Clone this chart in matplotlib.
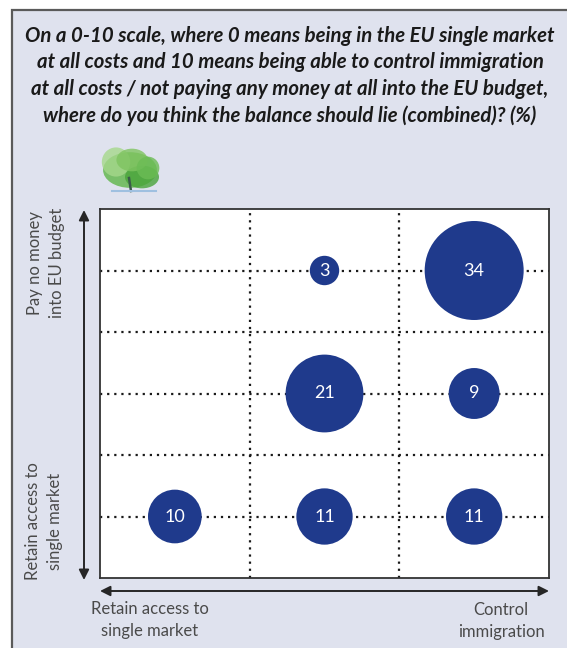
import matplotlib
matplotlib.use("Agg")
import matplotlib.pyplot as plt
from matplotlib.patches import Rectangle, Ellipse, FancyArrowPatch
from matplotlib.lines import Line2D

# ---- data ----
col_labels = ["Retain access to single market", "Middle", "Control immigration"]
row_labels = ["Retain access to single market", "Middle", "Pay no money into EU budget"]
bubble_col = [1, 2, 1, 2, 0, 1, 2]
bubble_row = [2, 2, 1, 1, 0, 0, 0]
bubble_val = [3, 34, 21, 9, 10, 11, 11]

title = ("On a 0-10 scale, where 0 means being in the EU single market\n"
         "at all costs and 10 means being able to control immigration\n"
         "at all costs / not paying any money at all into the EU budget,\n"
         "where do you think the balance should lie (combined)? (%)")
x_left_label = "Retain access to\nsingle market"
x_right_label = "Control\nimmigration"
y_top_label = "Pay no money\ninto EU budget"
y_bottom_label = "Retain access to\nsingle market"

W, H = 567, 648
DPI = 100
fig = plt.figure(figsize=(W / DPI, H / DPI), dpi=DPI)
fig.patch.set_facecolor("white")

def fx(x):
    return x / W

def fy(y):
    return 1 - y / H

BG = "#dfe2ee"
BLUE = "#1f3a8c"
GREY_TXT = "#4a4a4a"

# outer panel
fig.add_artist(Rectangle((fx(12), fy(660)), fx(570) - fx(12), fy(10) - fy(660),
                         transform=fig.transFigure, facecolor=BG,
                         edgecolor="#5a5a5a", lw=1.6, zorder=-10))

# title
fig.text(fx(290), fy(76), title, ha="center", va="center", fontsize=14.7,
         family="Lato", weight="bold", style="italic", color="#1a1a1a",
         linespacing=1.40)

# tree logo (simple drawn shapes)
tree_parts = [
    (fx(130), fy(170), 0.095, 0.055, "#5fb548"),
    (fx(116), fy(162), 0.05, 0.045, "#a6d88c"),
    (fx(142), fy(177), 0.06, 0.035, "#49a43a"),
    (fx(132), fy(160), 0.055, 0.035, "#7fc460"),
    (fx(148), fy(168), 0.04, 0.035, "#6cbc55"),
]
for cx, cy, w, h, c in tree_parts:
    fig.add_artist(Ellipse((cx, cy), w, h, transform=fig.transFigure,
                           facecolor=c, edgecolor="none", alpha=0.8, zorder=1))
fig.add_artist(Line2D([fx(129), fx(131)], [fy(178), fy(191)], transform=fig.transFigure,
                      color="#3a5a4a", lw=1.8, zorder=2))
fig.add_artist(Line2D([fx(112), fx(156)], [fy(191), fy(191)], transform=fig.transFigure,
                      color="#9fc0e0", lw=1.5, zorder=2))

# main axes
L, T, R, B = 100, 209, 549, 578
ax = fig.add_axes([fx(L), fy(B), fx(R) - fx(L), fy(T) - fy(B)])
ax.set_zorder(5)
ax.set_facecolor("white")
ax.set_xlim(0, 3)
ax.set_ylim(0, 3)
ax.set_xticks([])
ax.set_yticks([])
for s in ax.spines.values():
    s.set_color("#333333")
    s.set_linewidth(1.3)

dot = (0, (1, 2.2))
for xv in range(1, len(col_labels)):
    ax.axvline(xv, color="#1a1a1a", lw=1.6, ls=dot, zorder=1)
for r in range(len(row_labels)):
    ax.axhline(r + 0.5, color="#1a1a1a", lw=1.6, ls=dot, zorder=1)
for r in range(1, len(row_labels)):
    ax.axhline(r, color="#1a1a1a", lw=1.6, ls=dot, zorder=1)

max_val = max(bubble_val)
d_max_pt = 99 * 72 / DPI
sizes = [d_max_pt ** 2 * v / max_val for v in bubble_val]
xs = [c + 0.5 for c in bubble_col]
ys = [r + 0.5 for r in bubble_row]
ax.scatter(xs, ys, s=sizes, color=BLUE, edgecolors="none", zorder=3)
for x, y, v in zip(xs, ys, bubble_val):
    ax.text(x, y, str(v), ha="center", va="center", color="white", fontsize=13,
            family="Lato", zorder=4)

# axis arrows
ARR = "#262626"
fig.add_artist(FancyArrowPatch(
    (fx(84), fy(580)), (fx(84), fy(210)), transform=fig.transFigure,
    arrowstyle="<|-|>,head_length=6,head_width=3", color=ARR, lw=1.4,
    shrinkA=0, shrinkB=0))
fig.add_artist(FancyArrowPatch(
    (fx(100), fy(591)), (fx(549), fy(591)), transform=fig.transFigure,
    arrowstyle="<|-|>,head_length=6,head_width=3", color=ARR, lw=1.4,
    shrinkA=0, shrinkB=0))

# axis labels
lab_kw = dict(fontsize=12, family="Lato", color=GREY_TXT, linespacing=1.4)
fig.text(fx(46), fy(263), y_top_label, rotation=90, ha="center", va="center", **lab_kw)
fig.text(fx(44), fy(521), y_bottom_label, rotation=90, ha="center", va="center", **lab_kw)
fig.text(fx(150), fy(620), x_left_label, ha="center", va="center", **lab_kw)
fig.text(fx(501), fy(621), x_right_label, ha="center", va="center", **lab_kw)

fig.savefig("out.png", dpi=DPI, facecolor=fig.get_facecolor())
